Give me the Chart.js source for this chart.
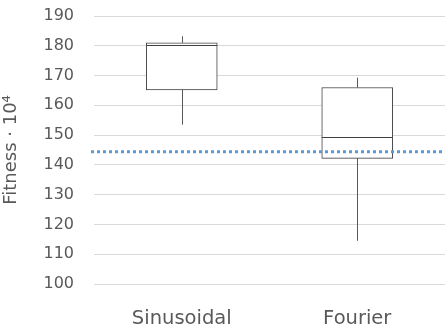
<!DOCTYPE html>
<html>
<head>
<meta charset="utf-8">
<script src="https://cdn.jsdelivr.net/npm/chart.js@4"></script>
<style>
  html, body { margin: 0; padding: 0; background: #fff; }
  #wrap { width: 445px; height: 329px; }
</style>
</head>
<body>
<div id="wrap"><canvas id="chart"></canvas></div>
<script>
var categories = ['Sinusoidal', 'Fourier'];
var mins = [153.5, 114.5];
var q1 = [165.2, 142.2];
var medians = [180.4, 149.5];
var q3 = [181, 166];
var maxs = [183.2, 169.3];
var reference = 144.4;

var boxes = categories.map(function(c, i) { return [q1[i], q3[i]]; });

var boxExtras = {
  id: 'boxExtras',
  beforeDatasetsDraw: function(chart) {
    // whiskers
    var ctx = chart.ctx;
    var y = chart.scales.y;
    var meta = chart.getDatasetMeta(0);
    ctx.save();
    ctx.strokeStyle = '#595959';
    ctx.lineWidth = 1;
    meta.data.forEach(function(bar, i) {
      var px = Math.round(bar.x) + 0.5;
      ctx.beginPath();
      ctx.moveTo(px, y.getPixelForValue(maxs[i]));
      ctx.lineTo(px, y.getPixelForValue(q3[i]));
      ctx.moveTo(px, y.getPixelForValue(q1[i]));
      ctx.lineTo(px, y.getPixelForValue(mins[i]));
      ctx.stroke();
    });
    ctx.restore();
  },
  afterDatasetsDraw: function(chart) {
    var ctx = chart.ctx;
    var y = chart.scales.y;
    var meta = chart.getDatasetMeta(0);
    ctx.save();
    // medians
    ctx.strokeStyle = '#404040';
    ctx.lineWidth = 1;
    meta.data.forEach(function(bar, i) {
      var py = Math.round(y.getPixelForValue(medians[i])) + 0.5;
      ctx.beginPath();
      ctx.moveTo(bar.x - bar.width / 2, py);
      ctx.lineTo(bar.x + bar.width / 2, py);
      ctx.stroke();
    });
    // reference line
    var ry = y.getPixelForValue(reference);
    ctx.strokeStyle = '#5B9BD5';
    ctx.lineWidth = 3;
    ctx.setLineDash([3, 3]);
    ctx.beginPath();
    ctx.moveTo(chart.chartArea.left - 3, ry);
    ctx.lineTo(chart.width, ry);
    ctx.stroke();
    ctx.restore();
  }
};

var ctx = document.getElementById('chart').getContext('2d');
new Chart(ctx, {
  type: 'bar',
  data: {
    labels: categories,
    datasets: [
      { label: 'box', data: boxes, backgroundColor: '#ffffff', borderColor: '#404040',
        borderWidth: 1, borderSkipped: false, barThickness: 71, grouped: false }
    ]
  },
  options: {
    responsive: true,
    maintainAspectRatio: false,
    animation: false,
    layout: { padding: { top: 16, right: 0, bottom: 0, left: 0 } },
    plugins: { legend: { display: false }, tooltip: { enabled: false } },
    scales: {
      x: {
        grid: { display: false, drawTicks: false },
        border: { display: false },
        ticks: { color: '#595959', padding: 23, font: { family: 'DejaVu Sans', size: 19.5 } },
        afterFit: function(scale) { scale.height = 45; scale.paddingLeft = 0; scale.paddingRight = 0; }
      },
      y: {
        min: 100, max: 190,
        grid: { color: '#D9D9D9', drawTicks: false },
        border: { display: false },
        ticks: { stepSize: 10, color: '#595959', padding: 20, font: { family: 'DejaVu Sans', size: 16 } },
        title: { display: true, text: 'Fitness · 10⁴', color: '#595959', padding: { top: 1, bottom: 0 },
                 font: { family: 'DejaVu Sans', size: 18 } },
        afterFit: function(scale) { scale.width = 94; scale.paddingTop = 0; scale.paddingBottom = 0; }
      }
    }
  },
  plugins: [boxExtras]
});
</script>
</body>
</html>
